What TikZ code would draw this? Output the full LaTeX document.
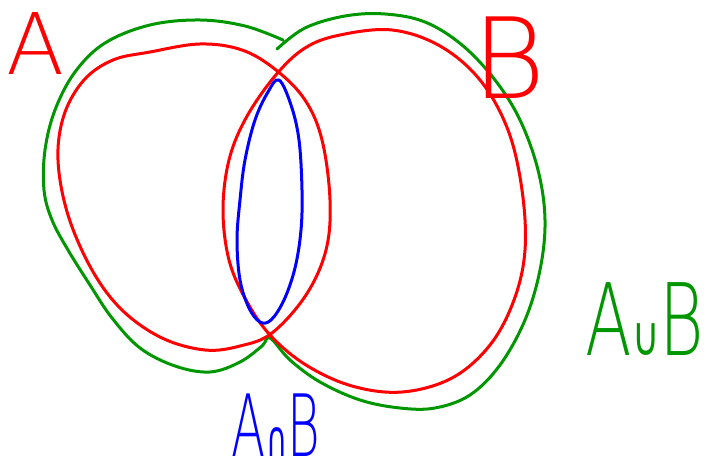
\documentclass[tikz,border=0pt]{standalone}
\usepackage{fontspec}
\newfontfamily\handfont{DejaVu Sans ExtraLight}
\newfontfamily\symbfont{DejaVu Sans}
\definecolor{pred}{RGB}{255,0,0}
\definecolor{pgreen}{RGB}{0,150,0}
\definecolor{pblue}{RGB}{0,0,255}
\tikzset{
  stroke/.style={line width=3pt, line cap=round, line join=round},
  lbl/.style={inner sep=0pt, text depth=0pt, font=\handfont},
}
\begin{document}
\begin{tikzpicture}[x=1pt,y=-1pt]
\useasboundingbox (0,0) rectangle (720,476);
% green union
\draw[stroke, pgreen] plot[smooth, tension=0.6] coordinates {
 (283,40) (245,26) (200,20) (150,25) (105,43) (75,72) (55,110) (45,150) (44,190) (52,220) (68,250) (90,285) (112,318) (140,348) (175,366) (210,372) (240,362) (262,346) (270,338) (290,360) (320,382) (360,400) (400,408) (435,408) (470,395) (500,365) (525,320) (540,270) (545,220) (538,170) (520,120) (495,80) (462,45) (425,22) (385,14) (345,16) (305,28) (277,49)};
% red A
\draw[stroke, pred] plot[smooth cycle, tension=0.6] coordinates {
 (200,44) (242,50) (276,70) (305,100) (322,140) (330,200) (326,250) (306,295) (272,333) (240,346) (205,350) (162,338) (122,310) (92,270) (68,215) (58,160) (64,115) (84,80) (113,60) (150,52)};
% red B
\draw[stroke, pred] plot[smooth cycle, tension=0.6] coordinates {
 (340,35) (392,30) (440,46) (480,80) (508,130) (522,190) (525,250) (514,300) (490,345) (452,378) (402,392) (352,386) (306,365) (270,335) (246,300) (229,260) (223,210) (229,160) (246,118) (275,76) (305,48)};
% blue intersection
\draw[stroke, pblue] plot[smooth cycle, tension=0.6] coordinates {
 (279,80) (291,105) (299,140) (302,190) (301,230) (295,268) (284,300) (271,320) (260,322) (249,308) (240,280) (237,240) (240,200) (245,160) (255,120) (268,92)};
% labels
\node[lbl, text=pred, font=\handfont\fontsize{85}{85}\selectfont] (la) at (36,44) {A};
\node[lbl, text=pred, font=\handfont\fontsize{112}{112}\selectfont] (lb) at (509,58) {B};
\node[lbl, anchor=base, text=pgreen, font=\handfont\fontsize{100}{100}\selectfont, xscale=0.68] (lu) at (645,355) {A{\symbfont\fontsize{55}{55}\selectfont ∪}B};
\node[lbl, anchor=base, text=pblue, font=\handfont\fontsize{86}{86}\selectfont, xscale=0.58] (li) at (276,456) {A{\symbfont\fontsize{50}{50}\selectfont ∩}B};
\end{tikzpicture}
\end{document}
